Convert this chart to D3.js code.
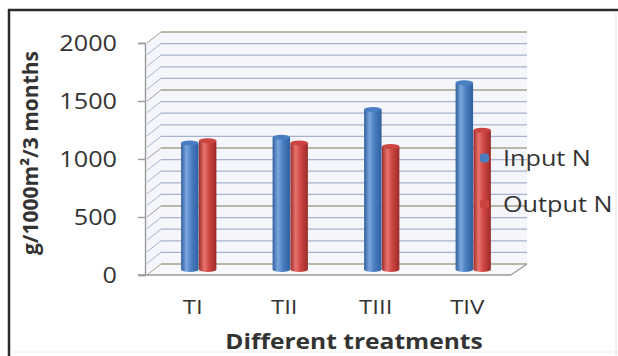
<!DOCTYPE html>
<html>
<head>
<meta charset="utf-8">
<script src="https://cdn.jsdelivr.net/npm/d3@7"></script>
<style>
  html, body { margin: 0; padding: 0; background: #fff; }
  svg { display: block; }
  text { font-family: "Open Sans", "Liberation Sans", sans-serif; fill: #333; }
</style>
</head>
<body>
<svg id="chart" width="618" height="356"></svg>
<script>
// Nitrogen balance per treatment (g/1000m²/3 months)
const categories = ["TI", "TII", "TIII", "TIV"];
const seriesNames = ["Input N", "Output N"];
const inputN = [1090, 1140, 1380, 1610];
const outputN = [1110, 1090, 1060, 1200];
const yTicks = [0, 500, 1000, 1500, 2000];
const yTitle = "g/1000m²/3 months";
const xTitle = "Different treatments";

const series = [
  { name: seriesNames[0], values: inputN, base: "#4a7ec2", light: "#7aa6dd", dark: "#2f5f9e" },
  { name: seriesNames[1], values: outputN, base: "#cc4440", light: "#e8736d", dark: "#9c2c29" }
];

const svg = d3.select("#chart");
const W = 618, H = 356;
const SX = 1.2; // horizontal stretch applied to horizontal labels

// frame
svg.append("rect").attr("x", 0).attr("y", 0).attr("width", W).attr("height", H).attr("fill", "#fff");
svg.append("line").attr("x1", 8).attr("x2", W).attr("y1", 10).attr("y2", 10)
  .attr("stroke", "#2b2b2b").attr("stroke-width", 2.5);
svg.append("line").attr("x1", 9).attr("x2", 9).attr("y1", 9).attr("y2", H)
  .attr("stroke", "#2b2b2b").attr("stroke-width", 2.5);
svg.append("line").attr("x1", 10).attr("x2", W).attr("y1", 352).attr("y2", 352)
  .attr("stroke", "#eeeeee").attr("stroke-width", 1);
svg.append("line").attr("x1", 616).attr("x2", 616).attr("y1", 11).attr("y2", H)
  .attr("stroke", "#e6e6e6").attr("stroke-width", 1);

// 3D layout
const frontLeft = 145, frontRight = 511;
const depthX = 16, depthY = -11;
const y = d3.scaleLinear().domain([0, 2000]).range([275, 43]);
const x = d3.scaleBand().domain(categories).range([frontLeft, frontRight]).padding(0);
const xs = d3.scaleBand().domain(seriesNames).range([-18, 18]).padding(0.02);

const backL = frontLeft + depthX, backR = frontRight + depthX;

// walls and floor
svg.append("polygon")
  .attr("points", [[backL, y(2000) + depthY], [backR, y(2000) + depthY], [backR, y(0) + depthY], [backL, y(0) + depthY]].join(" "))
  .attr("fill", "#f4f6fc");
svg.append("polygon")
  .attr("points", [[frontLeft, y(2000)], [backL, y(2000) + depthY], [backL, y(0) + depthY], [frontLeft, y(0)]].join(" "))
  .attr("fill", "#f4f6fc");
svg.append("polygon")
  .attr("points", [[frontLeft, y(0)], [backL, y(0) + depthY], [backR, y(0) + depthY], [frontRight, y(0)]].join(" "))
  .attr("fill", "#f7f8fc");

// gridlines every 100, darker at the labelled ticks
const gridVals = d3.range(0, 2001, 100);
const grid = svg.append("g");
gridVals.forEach(v => {
  const major = v % 500 === 0;
  const col = major ? "#a3a38c" : "#a8b2ce";
  grid.append("line")
    .attr("x1", backL).attr("x2", backR)
    .attr("y1", y(v) + depthY).attr("y2", y(v) + depthY)
    .attr("stroke", col).attr("stroke-width", major ? 1.6 : 1.2);
  grid.append("line")
    .attr("x1", frontLeft + 2).attr("x2", backL)
    .attr("y1", y(v)).attr("y2", y(v) + depthY)
    .attr("stroke", col).attr("stroke-width", 1);
});

// floor edges
const edge = "#9a9a9a";
svg.append("line").attr("x1", frontLeft - 7).attr("x2", frontRight).attr("y1", y(0)).attr("y2", y(0))
  .attr("stroke", edge).attr("stroke-width", 1.5);
svg.append("line").attr("x1", frontRight).attr("x2", backR).attr("y1", y(0)).attr("y2", y(0) + depthY)
  .attr("stroke", edge).attr("stroke-width", 1.2);

// y axis
const yAxis = d3.axisLeft(y).tickValues(yTicks).tickSize(7).tickFormat("");
const yg = svg.append("g").attr("transform", `translate(${frontLeft},0)`).call(yAxis);
yg.selectAll("path, line").attr("stroke", edge).attr("stroke-width", 1.4);

// y tick labels
yTicks.forEach(v => {
  svg.append("text")
    .attr("transform", `translate(117,${y(v) + 7.5}) scale(${SX},1)`)
    .attr("text-anchor", "end")
    .attr("font-size", 21)
    .attr("fill", "#404040")
    .text(v);
});

// cylinder gradients
const defs = svg.append("defs");
series.forEach((s, i) => {
  const g = defs.append("linearGradient").attr("id", "cyl" + i)
    .attr("x1", "0%").attr("x2", "100%").attr("y1", "0%").attr("y2", "0%");
  g.append("stop").attr("offset", "0%").attr("stop-color", s.dark);
  g.append("stop").attr("offset", "30%").attr("stop-color", s.light);
  g.append("stop").attr("offset", "60%").attr("stop-color", s.base);
  g.append("stop").attr("offset", "100%").attr("stop-color", s.dark);
});

// bars drawn at mid depth as cylinders
const midX = depthX / 2, midY = depthY / 2;
const bw = xs.bandwidth();
const ry = 2.5;
const bars = svg.append("g");
categories.forEach((c, ci) => {
  series.forEach((s, si) => {
    const cx = x(c) + x.bandwidth() / 2 + midX + xs(s.name);
    const yTop = y(s.values[ci]) + midY;
    const yBot = y(0) + midY;
    bars.append("ellipse")
      .attr("cx", cx + bw / 2).attr("cy", yBot).attr("rx", bw / 2).attr("ry", ry)
      .attr("fill", `url(#cyl${si})`);
    bars.append("rect")
      .attr("x", cx).attr("y", yTop).attr("width", bw).attr("height", yBot - yTop)
      .attr("fill", `url(#cyl${si})`);
    bars.append("ellipse")
      .attr("cx", cx + bw / 2).attr("cy", yTop).attr("rx", bw / 2).attr("ry", ry)
      .attr("fill", s.base);
  });
});

// category labels
categories.forEach(c => {
  svg.append("text")
    .attr("transform", `translate(${x(c) + x.bandwidth() / 2 + 2},314) scale(${SX},1)`)
    .attr("text-anchor", "middle")
    .attr("font-size", 20)
    .attr("fill", "#404040")
    .text(c);
});

// axis titles
svg.append("text")
  .attr("transform", `translate(354,349) scale(1.17,1)`)
  .attr("text-anchor", "middle")
  .attr("font-size", 21)
  .attr("font-weight", "bold")
  .attr("fill", "#333")
  .text(xTitle);

svg.append("text")
  .attr("transform", `translate(38,153) rotate(-90)`)
  .attr("text-anchor", "middle")
  .attr("font-size", 21)
  .attr("font-weight", "bold")
  .attr("fill", "#333")
  .text(yTitle);

// legend
const legendY = [158, 204];
series.forEach((s, i) => {
  svg.append("rect")
    .attr("x", 480).attr("y", legendY[i] - 4.5).attr("width", 9).attr("height", 9).attr("rx", 3)
    .attr("fill", s.base);
  svg.append("text")
    .attr("transform", `translate(503,${legendY[i] + 7.5}) scale(${SX},1)`)
    .attr("font-size", 21)
    .attr("fill", "#404040")
    .text(s.name);
});
</script>
</body>
</html>
